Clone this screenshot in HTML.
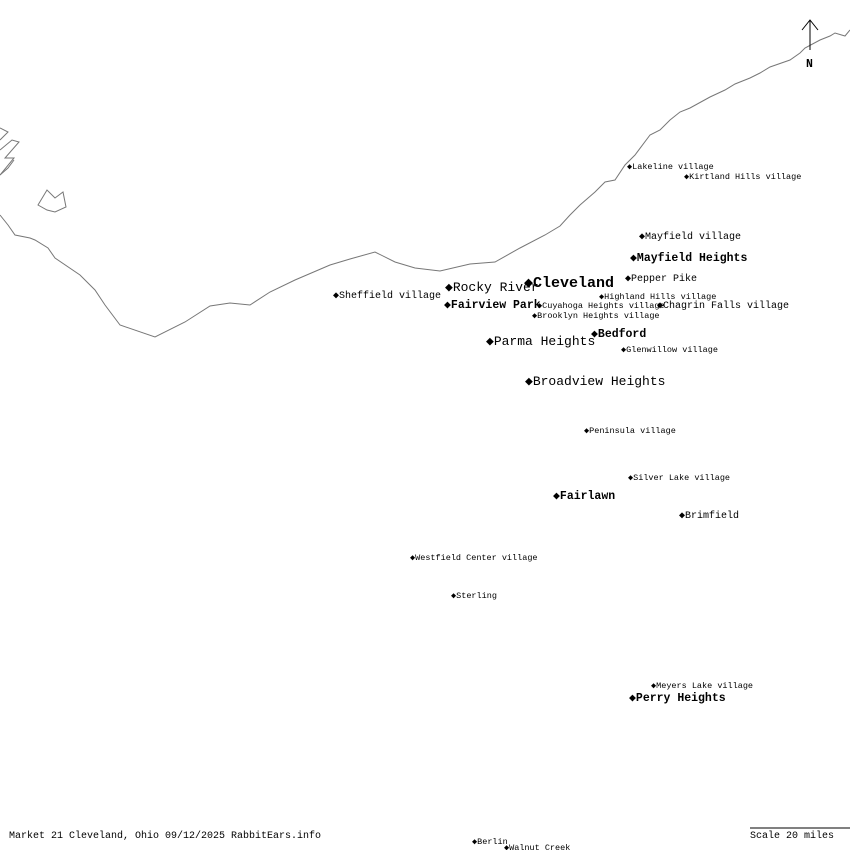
<!DOCTYPE html>
<html><head><style>
body{margin:0;background:#fff;}
.w{position:relative;width:850px;height:850px;overflow:hidden;font-family:"Liberation Mono","DejaVu Sans Mono",monospace;color:#000;}
.l{position:absolute;white-space:nowrap;line-height:1;margin-top:2px;}
.s{font-size:8.5px;}
.m{font-size:10px;}
.mb{font-size:11.5px;font-weight:bold;}
.lg{font-size:13px;}
.xb{font-size:15px;font-weight:bold;}
</style></head><body><div class="w">
<svg width="850" height="850" style="position:absolute;left:0;top:0">
<polyline fill="none" stroke="#777" stroke-width="1" points="0,215 8,225 15,235 30,238 35,240 48,248 55,258 80,275 95,290 105,305 120,325 155,337 185,322 210,306 230,303 250,305 270,292 295,280 330,265 350,259 375,252 395,262 415,268 440,271 470,264 495,262 520,248 545,235 560,226 570,215 580,205 595,192 605,182 615,180 625,165 635,155 650,135 660,130 670,120 680,112 690,108 710,97 725,90 735,84 750,78 760,73 770,67 790,60 800,53 805,48 820,40 830,36 835,33 845,36 850,30"/>
<polygon fill="none" stroke="#777" points="38,205 47,190 55,198 63,192 66,207 55,212 47,210"/>
<polyline fill="none" stroke="#777" points="0,128 8,132 0,140"/>
<polyline fill="none" stroke="#777" points="0,150 12,140 19,142 5,158 14,158 0,175"/>
<polyline fill="none" stroke="#777" points="0,175 8,168 14,160"/>
<line x1="810" y1="20" x2="810" y2="50" stroke="#000"/>
<polyline fill="none" stroke="#000" points="802,30 810,20 818,30"/>
<line x1="750" y1="828" x2="850" y2="828" stroke="#000"/>
</svg>
<div class="l mb" style="left:806px;top:57px">N</div>
<div class="l s" style="left:627px;top:161px">◆Lakeline village</div>
<div class="l s" style="left:684px;top:171px">◆Kirtland Hills village</div>
<div class="l m" style="left:639px;top:231px">◆Mayfield village</div>
<div class="l mb" style="left:630px;top:251px">◆Mayfield Heights</div>
<div class="l m" style="left:625px;top:273px">◆Pepper Pike</div>
<div class="l xb" style="left:524px;top:274px">◆Cleveland</div>
<div class="l lg" style="left:445px;top:279px">◆Rocky River</div>
<div class="l m" style="left:333px;top:290px">◆Sheffield village</div>
<div class="l s" style="left:599px;top:291px">◆Highland Hills village</div>
<div class="l mb" style="left:444px;top:298px">◆Fairview Park</div>
<div class="l s" style="left:537px;top:300px">◆Cuyahoga Heights village</div>
<div class="l m" style="left:657px;top:300px">◆Chagrin Falls village</div>
<div class="l s" style="left:532px;top:310px">◆Brooklyn Heights village</div>
<div class="l mb" style="left:591px;top:327px">◆Bedford</div>
<div class="l lg" style="left:486px;top:333px">◆Parma Heights</div>
<div class="l s" style="left:621px;top:344px">◆Glenwillow village</div>
<div class="l lg" style="left:525px;top:373px">◆Broadview Heights</div>
<div class="l s" style="left:584px;top:425px">◆Peninsula village</div>
<div class="l s" style="left:628px;top:472px">◆Silver Lake village</div>
<div class="l mb" style="left:553px;top:489px">◆Fairlawn</div>
<div class="l m" style="left:679px;top:510px">◆Brimfield</div>
<div class="l s" style="left:410px;top:552px">◆Westfield Center village</div>
<div class="l s" style="left:451px;top:590px">◆Sterling</div>
<div class="l s" style="left:651px;top:680px">◆Meyers Lake village</div>
<div class="l mb" style="left:629px;top:691px">◆Perry Heights</div>
<div class="l s" style="left:472px;top:836px">◆Berlin</div>
<div class="l s" style="left:504px;top:842px">◆Walnut Creek</div>
<div class="l" style="left:9px;top:830px;font-size:10px">Market 21 Cleveland, Ohio 09/12/2025 RabbitEars.info</div>
<div class="l" style="left:750px;top:830px;font-size:10px">Scale 20 miles</div>
</div></body></html>
